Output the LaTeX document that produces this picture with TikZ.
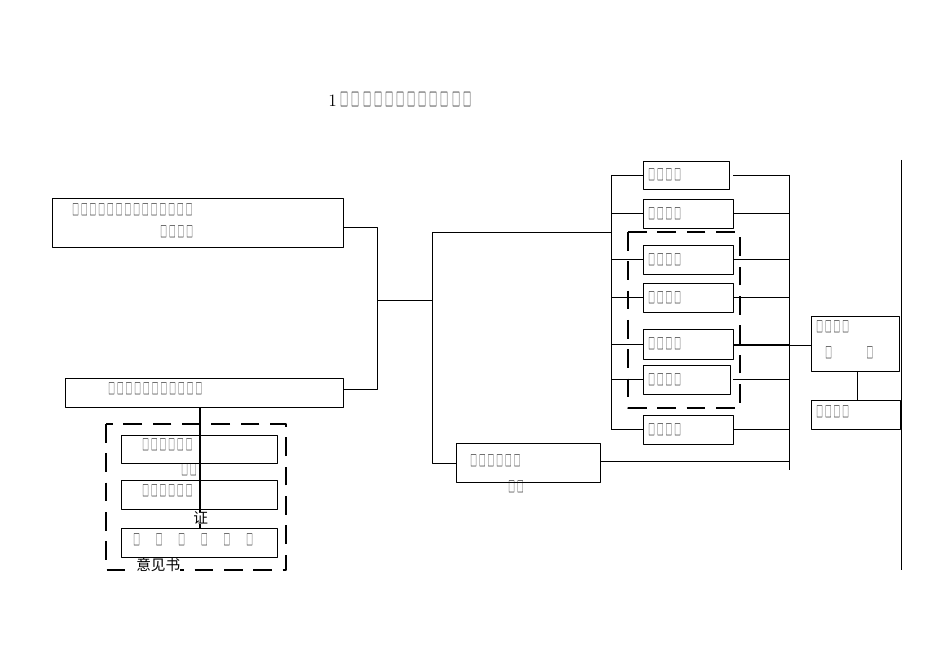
\documentclass[tikz,border=0pt]{standalone}
\usepackage{fontspec}
\usepackage{graphicx}
\newfontfamily\cjk{Noto Sans CJK SC}
\usetikzlibrary{positioning}
\tikzset{
  box/.style={draw, line width=0.7pt},
  dbox/.style={draw, line width=0.9pt, dash pattern=on 14pt off 8pt},
  link/.style={draw, line width=0.6pt},
  lbl/.style={inner sep=0pt, anchor=west, font=\cjk\fontsize{9}{11}\selectfont}
}
% narrow tofu glyph
\newcommand{\tg}{\scalebox{0.55}[1.25]{□}}
\newcommand{\tf}[1]{\foreach \i in {1,...,#1}{\tg\hspace{1.6pt}}}
\begin{document}
\begin{tikzpicture}[x=0.75pt, y=-0.75pt, line join=round]
\useasboundingbox (0,0) rectangle (950,670);

% title
\node[lbl, font=\cjk\fontsize{11}{13}\selectfont] (title) at (328,100) {{\rmfamily\fontsize{13}{15}\selectfont 1}\hspace{3pt}\foreach \i in {1,...,12}{\tg\hspace{2.3pt}}};

% left boxes
\draw[box] (52,198) rectangle (343,247);
\node[lbl] (a1) at (72,210) {\tf{14}};
\node[lbl] (a2) at (160,232) {\tf{4}};
\draw[box] (65,378) rectangle (343,407);
\node[lbl] (b1) at (108,389) {\tf{11}};

\draw[dbox] (106,424) rectangle (286,570);
\draw[link, line width=1.2pt] (200,407) -- (200,528);
\draw[box] (121,435) rectangle (277,463);
\node[lbl] (c1) at (142,445) {\tf{6}};
\node[lbl] (c1b) at (181,470) {\tf{2}};
\draw[box] (121,480) rectangle (277,509);
\node[lbl] (c2) at (142,491) {\tf{6}};
\node[lbl, fill=white, font=\cjk\fontsize{11}{13}\selectfont] (c2b) at (193,518) {证};
\draw[box] (121,528) rectangle (277,557);
\node[lbl] (c3) at (133,540) {\tg\hspace{12pt}\tg\hspace{12pt}\tg\hspace{12pt}\tg\hspace{12pt}\tg\hspace{12pt}\tg};
\node[lbl, fill=white, font=\cjk\fontsize{11}{13}\selectfont] (c3b) at (136,565) {意见书};

% trunk
\draw[link] (343,227) -- (377,227) -- (377,389) -- (343,389);
\draw[link] (377,300) -- (432,300);
\draw[link] (611,232) -- (432,232) -- (432,463) -- (456,463);
\draw[box] (456,443) rectangle (600,482);
\node[lbl] (d1) at (470,461) {\tf{6}};
\node[lbl] (d2) at (508,487) {\tf{2}};
\draw[link] (600,461) -- (789,461);

% right column
\draw[link] (611,175) -- (611,430);
\draw[link] (789,175) -- (789,470);
\draw[dbox] (628,232) rectangle (740,408);
\foreach \yt/\yb/\xr/\xs in {161/189/729/733, 199/228/733/733, 245/274/733/733, 283/312/733/733, 329/359/733/733, 365/394/730/733, 415/444/733/733}{
  \draw[box, fill=white] (643,\yt) rectangle (\xr,\yb);
  \node[lbl] at (648,{(\yt+\yb)/2}) {\tf{4}};
  \draw[link] (611,{(\yt+\yb)/2}) -- (643,{(\yt+\yb)/2});
  \draw[link] (\xs,{(\yt+\yb)/2}) -- (789,{(\yt+\yb)/2});
}
\draw[box] (811,316) rectangle (899,371);
\node[lbl] (e1) at (816,327) {\tf{4}};
\node[lbl] (e2) at (825,353) {\tg\hspace{26pt}\tg};
\draw[link] (733,345) -- (811,345);
\draw[link] (857,371) -- (857,400);
\draw[box] (811,400) rectangle (900,429);
\node[lbl] (f1) at (816,412) {\tf{4}};
\draw[link] (901,160) -- (901,570);
\end{tikzpicture}
\end{document}
